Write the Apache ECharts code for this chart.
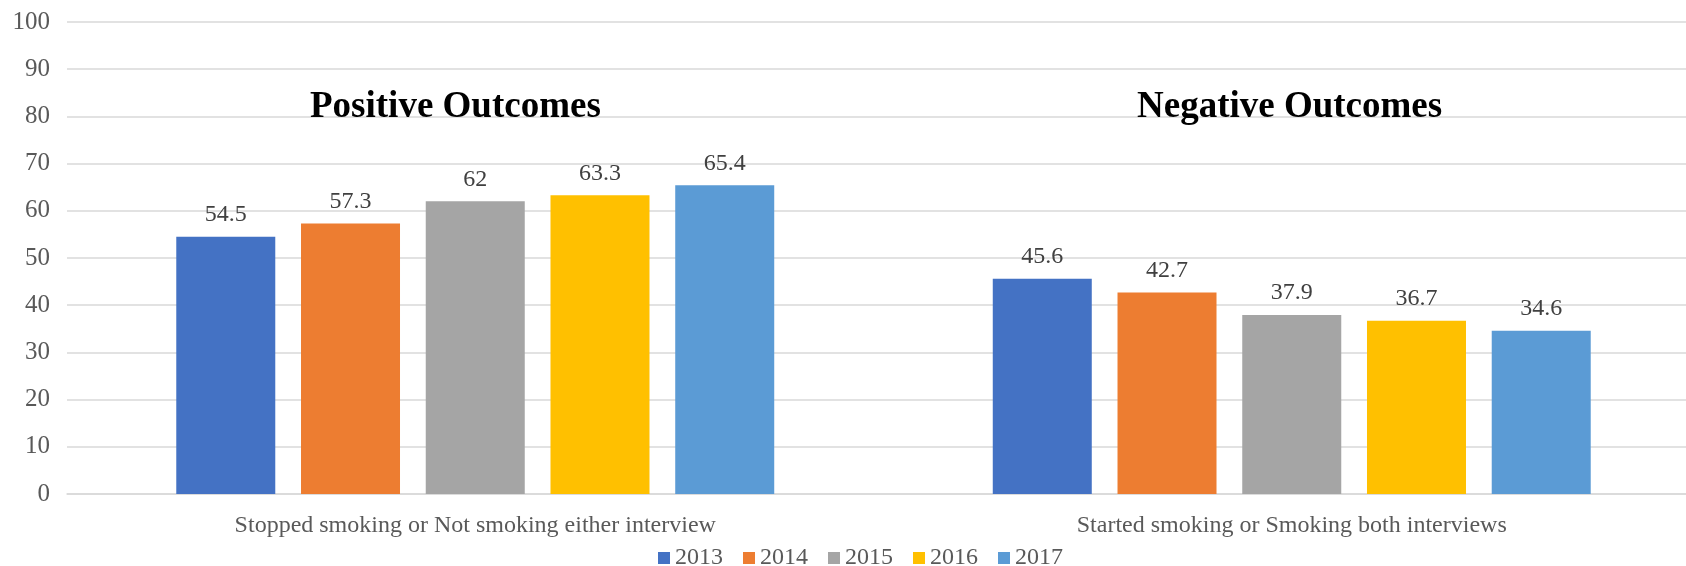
<!DOCTYPE html>
<html>
<head>
<meta charset="utf-8">
<script src="https://cdn.jsdelivr.net/npm/echarts@6/dist/echarts.min.js"></script>
<style>
    html, body { margin: 0; padding: 0; background: #fff; }
    #chart { width: 1686px; height: 566px; }
</style>
</head>
<body>
<div id="chart"></div>
<script>
// outcome groups on the x axis
const categories = ['Stopped smoking or Not smoking either interview', 'Started smoking or Smoking both interviews'];
const years = ['2013', '2014', '2015', '2016', '2017'];
const v2013 = [54.5, 45.6];
const v2014 = [57.3, 42.7];
const v2015 = [62, 37.9];
const v2016 = [63.3, 36.7];
const v2017 = [65.4, 34.6];
const groupTitles = ['Positive Outcomes', 'Negative Outcomes'];

const colors = ['#4472C4', '#ED7D31', '#A5A5A5', '#FFC000', '#5B9BD5'];
const font = 'Liberation Serif';

var myChart = echarts.init(document.getElementById('chart'));

const seriesData = [v2013, v2014, v2015, v2016, v2017];

myChart.setOption({
    animation: false,
    color: colors,
    textStyle: { fontFamily: font },
    title: [
        {
            text: groupTitles[0],
            left: 305,
            top: 84,
            textStyle: { fontFamily: font, fontWeight: 'bold', fontSize: 37, color: '#000' }
        },
        {
            text: groupTitles[1],
            left: 1132,
            top: 84,
            textStyle: { fontFamily: font, fontWeight: 'bold', fontSize: 37, color: '#000' }
        }
    ],
    legend: {
        data: years,
        left: 653,
        top: 541,
        itemWidth: 12,
        itemHeight: 12,
        itemGap: 20,
        icon: 'rect',
        textStyle: { fontFamily: font, fontSize: 24, color: '#595959' }
    },
    // plot runs past the right edge of the picture, like the cropped original
    grid: {
        left: 67,
        width: 1633,
        top: 22,
        bottom: 72,
        outerBoundsMode: 'none',
        containLabel: false
    },
    xAxis: {
        type: 'category',
        data: categories,
        axisTick: { show: false },
        axisLine: { lineStyle: { color: '#D9D9D9', width: 1.5 } },
        axisLabel: { fontFamily: font, fontSize: 24, color: '#595959', margin: 20 }
    },
    yAxis: {
        type: 'value',
        min: 0,
        max: 100,
        interval: 10,
        axisLine: { show: false },
        axisTick: { show: false },
        splitLine: { lineStyle: { color: '#D9D9D9', width: 1.5 } },
        axisLabel: { fontFamily: font, fontSize: 25, color: '#595959', margin: 17 }
    },
    series: years.map((y, i) => ({
        name: y,
        type: 'bar',
        data: seriesData[i],
        barWidth: 99,
        barGap: '26%',
        label: {
            show: true,
            position: 'top',
            distance: 10,
            fontFamily: font,
            fontSize: 24,
            color: '#404040'
        }
    }))
});
</script>
</body>
</html>
